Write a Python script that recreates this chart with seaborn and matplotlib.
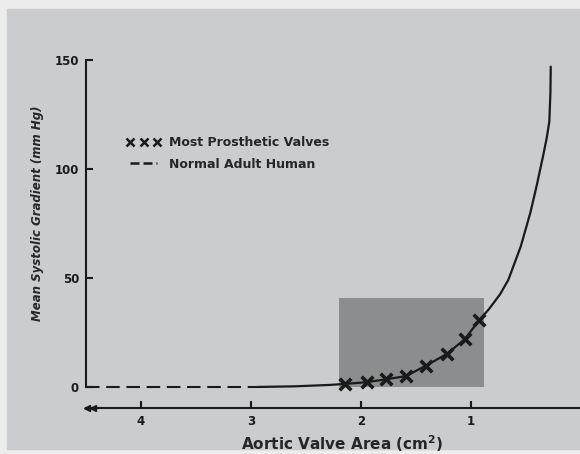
import matplotlib
matplotlib.use("Agg")
import matplotlib.pyplot as plt
import seaborn as sns
from matplotlib.lines import Line2D
from matplotlib.patches import Rectangle

# ==========================================================
# Data
# ==========================================================

# prosthetic valve curve: aortic valve area (cm2) vs mean gradient (mm Hg)
curve_area = [2.94, 2.6, 2.3, 2.145, 1.948, 1.775, 1.59, 1.41, 1.22,
              1.055, 0.925, 0.84, 0.736, 0.661, 0.548, 0.46, 0.40,
              0.343, 0.312, 0.288, 0.278, 0.275]
curve_gradient = [0, 0.3, 0.9, 1.4, 2.2, 3.5, 5.0, 9.8, 15.1,
                  22.0, 30.7, 35.5, 42.5, 49.1, 64.4, 80.0, 93.0,
                  106.4, 114.1, 121.7, 135.0, 146.9]

# "most prosthetic valves" markers
valve_area = [2.145, 1.948, 1.775, 1.59, 1.41, 1.22, 1.055, 0.925]
valve_gradient = [1.4, 2.2, 3.5, 5.0, 9.8, 15.1, 22.0, 30.7]

# normal adult human (dashed, zero gradient)
normal_area = [4.5, 2.94]
normal_gradient = [0, 0]

# shaded region
box_area = [2.2, 0.88]
box_top = 41

x_ticks = [4, 3, 2, 1]
y_ticks = [0, 50, 100, 150]

legend_labels = ["Most Prosthetic Valves", "Normal Adult Human"]

# ==========================================================
# Figure
# ==========================================================

sns.set_style("ticks")
plt.rcParams["font.family"] = ["DejaVu Sans"]

ink = "#1a1a1a"
bg = "#cacccf"
fig = plt.figure(figsize=(5.8, 4.54), dpi=100, facecolor="#ececec")
fig.patches.append(Rectangle((7 / 580, 5 / 454), 1, (454 - 14) / 454,
                             transform=fig.transFigure, color=bg,
                             zorder=-10))

ax = fig.add_axes([86 / 580, (454 - 407.9) / 454,
                   495 / 580, 352.3 / 454])
ax.set_facecolor("none")

ax.fill_between(box_area, 0, box_top, color="#8c8d8f", lw=0, zorder=1)

ax.plot(normal_area, normal_gradient, color=ink, lw=1.5,
        ls=(0, (6.5, 3.2)), zorder=2)

sns.lineplot(x=curve_area, y=curve_gradient, estimator=None, sort=False,
             color=ink, lw=1.6, ax=ax, zorder=3)

sns.scatterplot(x=valve_area, y=valve_gradient, marker="x", s=70,
                linewidth=2.6, color=ink, ax=ax, zorder=4)

ax.set_xlim(4.5, 0.0)
ax.set_ylim(-9.6, 152)

for side in ["top", "right"]:
    ax.spines[side].set_visible(False)
ax.spines["left"].set_bounds(0, 150)
for side in ["left", "bottom"]:
    ax.spines[side].set_linewidth(1.5)
    ax.spines[side].set_color(ink)

ax.set_xticks(x_ticks)
ax.set_xticklabels([str(t) for t in x_ticks])
ax.set_yticks(y_ticks)
ax.set_yticklabels([str(t) for t in y_ticks])
ax.tick_params(direction="in", length=5, width=1.5, colors=ink,
               labelsize=8.5, pad=5)
for lab in ax.get_xticklabels() + ax.get_yticklabels():
    lab.set_fontweight("bold")

# double arrow head at left end of x axis
ax.plot([0.002, 0.014], [0, 0], transform=ax.transAxes, marker="<",
        ls="none", ms=4, color=ink, clip_on=False)

ax.set_xlabel("Aortic Valve Area (cm$^{\\mathbf{2}}$)", fontsize=11,
              fontweight="bold")
ax.xaxis.set_label_coords(0.517, -0.072)
ax.set_ylabel("Mean Systolic Gradient (mm Hg)", fontsize=8.5,
              fontweight="bold", style="italic")
ax.yaxis.set_label_coords(-0.085, 0.553)

handles = [
    Line2D([], [], ls="none", marker="x", ms=5.5, mew=1.8, color=ink),
    Line2D([], [], ls=(0, (3.6, 1.6)), lw=1.8, color=ink),
]
ax.legend(handles, legend_labels, numpoints=3, frameon=False,
          loc="upper left", bbox_to_anchor=(121 / 580, 1 - 131 / 454),
          bbox_transform=fig.transFigure, borderaxespad=0,
          handlelength=2.8, handletextpad=0.65, labelspacing=0.7,
          prop={"weight": "bold", "size": 9})

plt.savefig("out.png", dpi=100, facecolor=fig.get_facecolor())
plt.close()
